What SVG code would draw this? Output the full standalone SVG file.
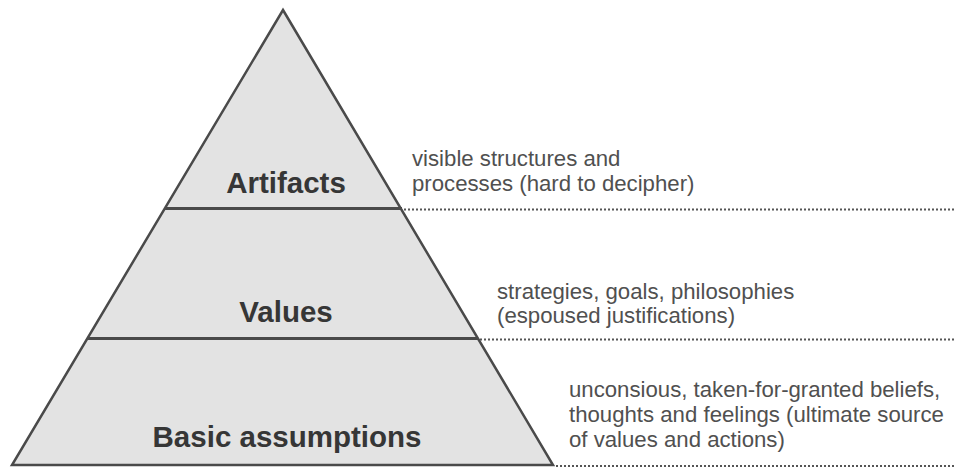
<svg xmlns="http://www.w3.org/2000/svg" width="955" height="468" viewBox="0 0 955 468">
  <style>
    .tier { fill: #e3e3e3; stroke: #4a4a4a; stroke-width: 2.5; stroke-linejoin: miter; }
    .divider { stroke: #4a4a4a; stroke-width: 3; }
    .dots { stroke: #555; stroke-width: 2; stroke-dasharray: 2 2; fill: none; }
    .label { font-family: "Liberation Sans", Arial, sans-serif; font-weight: bold; font-size: 29.5px; fill: #363636; text-anchor: middle; }
    .note { font-family: "Liberation Sans", Arial, sans-serif; font-size: 22.2px; fill: #505050; }
  </style>
  <rect width="955" height="468" fill="#fff"/>

  <!-- pyramid outline -->
  <g id="pyramid">
    <polygon class="tier" points="283,10 553,465 12,465"/>
  </g>

  <g id="artifacts">
    <line class="divider" x1="165" y1="208.5" x2="402" y2="208.5"/>
    <text class="label" x="286" y="193">Artifacts</text>
    <text class="note" x="412" y="166">visible structures and</text>
    <text class="note" x="412" y="191">processes (hard to decipher)</text>
  </g>

  <g id="values">
    <line class="divider" x1="88" y1="338.5" x2="478" y2="338.5"/>
    <text class="label" x="286" y="322">Values</text>
    <text class="note" x="497" y="299">strategies, goals, philosophies</text>
    <text class="note" x="497" y="323">(espoused justifications)</text>
  </g>

  <g id="basic-assumptions">
    <text class="label" x="287" y="447">Basic assumptions</text>
    <text class="note" x="569" y="397">unconsious, taken-for-granted beliefs,</text>
    <text class="note" x="569" y="422">thoughts and feelings (ultimate source</text>
    <text class="note" x="569" y="447">of values and actions)</text>
  </g>

  <!-- dotted level guides -->
  <g id="connectors">
    <line class="dots" x1="404" y1="209.5" x2="955" y2="209.5"/>
    <line class="dots" x1="480" y1="339.5" x2="955" y2="339.5"/>
    <line class="dots" x1="556" y1="466" x2="955" y2="466"/>
  </g>
</svg>
